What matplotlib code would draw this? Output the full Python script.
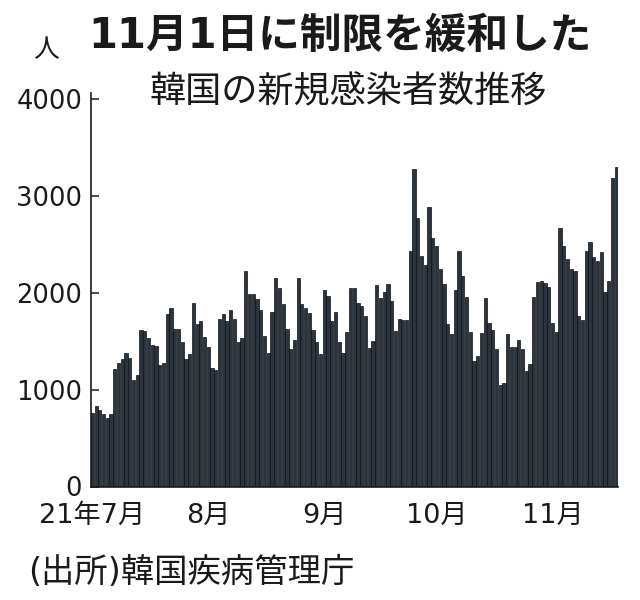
import matplotlib
matplotlib.use("Agg")
import matplotlib.pyplot as plt
import pandas as pd
import numpy as np

plt.rcParams['font.family'] = ['DejaVu Sans', 'Noto Sans CJK JP']

# ---- data (daily new cases, 2021-07-01 .. 2021-11-18) ----
start_date = "2021-07-01"
cases_jul = [762, 826, 794, 743, 711, 746, 1212, 1275, 1316, 1378, 1324, 1100, 1150,
             1615, 1600, 1536, 1455, 1454, 1252, 1278, 1784, 1842, 1630, 1629, 1487,
             1318, 1365, 1896, 1674, 1710, 1539]
cases_aug = [1442, 1219, 1202, 1725, 1776, 1704, 1823, 1729, 1492, 1537, 2223, 1987,
             1990, 1930, 1817, 1556, 1373, 1805, 2152, 2052, 1880, 1626, 1418, 1509,
             2155, 1882, 1841, 1793, 1619, 1487, 1372]
cases_sep = [2025, 1961, 1709, 1804, 1490, 1375, 1597, 2050, 2049, 1892, 1865, 1755,
             1433, 1497, 2080, 1943, 2008, 2087, 1910, 1604, 1729, 1720, 1716, 2434,
             3273, 2771, 2383, 2289, 2885, 2564]
cases_oct = [2486, 2248, 2085, 1673, 1575, 2028, 2427, 2176, 1953, 1594, 1297, 1347,
             1584, 1940, 1684, 1618, 1420, 1050, 1073, 1571, 1441, 1439, 1508, 1423,
             1190, 1266, 1952, 2111, 2124, 2104, 2061]
cases_nov = [1686, 1589, 2667, 2482, 2344, 2248, 2224, 1758, 1715, 2425, 2520, 2368,
             2324, 2419, 2006, 2125, 3187, 3292]
month_labels = ["21年7月", "8月", "9月", "10月", "11月"]
y_ticks = [0, 1000, 2000, 3000, 4000]

title = "11月1日に制限を緩和した"
subtitle = "韓国の新規感染者数推移"
unit = "人"
source = "(出所)韓国疾病管理庁"

cases = cases_jul + cases_aug + cases_sep + cases_oct + cases_nov
dates = pd.date_range(start_date, periods=len(cases), freq="D")
x = np.arange(len(cases))

fig = plt.figure(figsize=(6.4, 6.0), dpi=100)
ax = fig.add_axes([90.5 / 640, 113.5 / 600, 527.5 / 640, 393.5 / 600])

ax.bar(x, cases, width=0.86, color="#2b333d", edgecolor="#0f1215", linewidth=0.5,
       align="center")

ax.set_xlim(-0.5, len(cases) - 0.5)
ax.set_ylim(0, 4060)

month_pos = [i for i, d in enumerate(dates) if d.day == 1]
ax.set_xticks(month_pos)
ax.set_xticklabels(month_labels)
ax.tick_params(axis="x", length=0, pad=12, labelsize=19.5, colors="#1a1a1a")

ax.set_yticks(y_ticks)
ax.set_yticklabels([str(v) for v in y_ticks])
ax.tick_params(axis="y", direction="in", length=6, width=1.1, pad=6,
               labelsize=18.5, colors="#1a1a1a")

for s in ["top", "right"]:
    ax.spines[s].set_visible(False)
ax.spines["left"].set_linewidth(1.2)
ax.spines["left"].set_color("#1a1a1a")
ax.spines["bottom"].set_linewidth(1.2)
ax.spines["bottom"].set_color("#1a1a1a")

fig.text(340 / 640, 1 - 36 / 600, title, ha="center", va="center",
         fontsize=30, fontweight="bold", color="#1a1a1a")
fig.text(348 / 640, 1 - 92 / 600, subtitle, ha="center", va="center",
         fontsize=26, color="#1a1a1a", family=["Noto Sans CJK JP", "DejaVu Sans"])
fig.text(46 / 640, 1 - 50 / 600, unit, ha="center", va="center",
         fontsize=18.5, color="#1a1a1a", family=["Noto Sans CJK JP", "DejaVu Sans"])
fig.text(28 / 640, 1 - 573 / 600, source, ha="left", va="center",
         fontsize=24, color="#1a1a1a")

fig.savefig("out.png", dpi=100, facecolor="white")
